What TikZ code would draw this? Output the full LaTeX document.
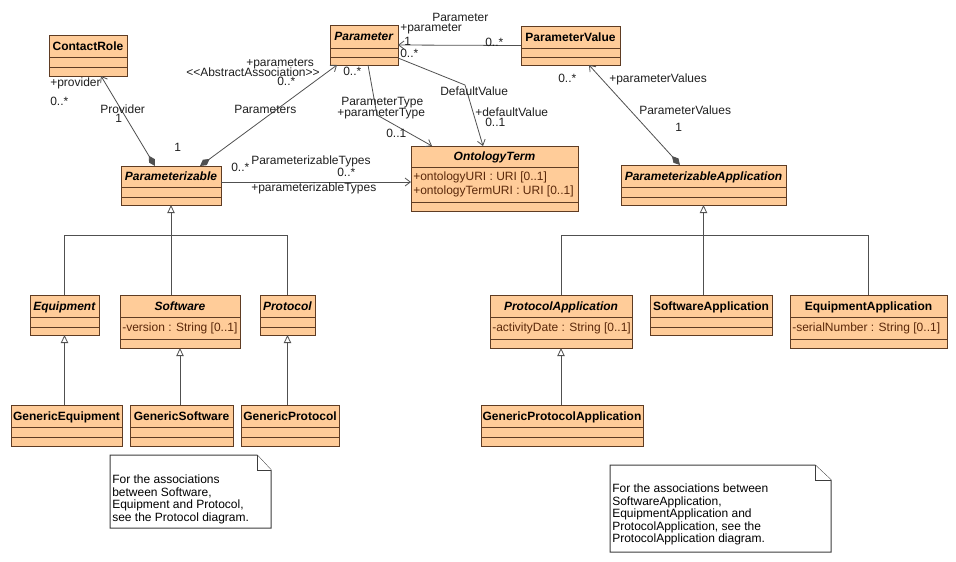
\documentclass[tikz,border=0pt]{standalone}
\usepackage{fontspec}
\setmainfont{Liberation Sans}
\usepackage{xcolor}
\usetikzlibrary{arrows.meta,calc}

\definecolor{umlfill}{RGB}{255,204,153}
\definecolor{boxc}{RGB}{95,60,35}
\definecolor{attrc}{RGB}{90,40,10}
\definecolor{linec}{RGB}{80,80,80}
\definecolor{lblc}{RGB}{30,30,30}
\definecolor{notec}{RGB}{60,60,60}

\tikzset{
  classbox/.style={draw=boxc, fill=umlfill, line width=0.75pt, anchor=north west, inner sep=0pt, outer sep=0pt},
  classline/.style={draw=boxc, line width=0.75pt},
  classtitle/.style={font=\fontsize{9}{10}\selectfont\bfseries, inner sep=0pt, text height=6.5pt, text depth=0pt},
  classattr/.style={font=\fontsize{9}{10.5}\selectfont, text=attrc, inner sep=0pt, anchor=west, align=left},
  lbl/.style={font=\fontsize{9}{10}\selectfont, inner sep=0pt, anchor=west, text height=6.5pt, text depth=0pt, text=lblc},
  assoc/.style={draw=linec, line width=0.6pt},
  navi/.style={-{Straight Barb[length=4pt,width=6pt]}},
  compo/.style={{Diamond[length=9pt,width=5pt]}-{Straight Barb[length=4pt,width=6pt]}},
  genl/.style={draw=linec, line width=0.6pt, -{Triangle[open,length=6pt,width=5.5pt,fill=white]}},
  notebox/.style={draw=notec, fill=white, line width=0.75pt},
  notetext/.style={font=\fontsize{9}{9.4}\selectfont, inner sep=0pt, anchor=west, align=left}
}

% class box: name, x, y, width, height, first sep, second sep, title, attributes
\newcommand{\umlclass}[9]{%
  \node[classbox, minimum width=#4*0.75pt, minimum height=#5*0.75pt] (#1) at (#2,#3) {};
  \draw[classline] ($(#1.north west)+(0,#6)$) -- ($(#1.north east)+(0,#6)$);
  \draw[classline] ($(#1.north west)+(0,#7)$) -- ($(#1.north east)+(0,#7)$);
  \node[classtitle] (#1-title) at ($(#1.north)+(0,#6/2)$) {#8};
  \if\relax\detokenize{#9}\relax\else
  \node[classattr] (#1-attr) at ($(#1.north west)+(2,#6/2+#7/2)$) {#9};
  \fi
}

\begin{document}
\begin{tikzpicture}[x=0.75pt,y=0.75pt,yscale=-1,xscale=1]
\useasboundingbox (0,0) rectangle (956,561);

%Shape: Class [ContactRole]
\umlclass{cr}{49}{35}{78}{41}{22}{32}{ContactRole}{}
%Shape: Class [Parameter]
\umlclass{prm}{330}{25}{68}{40}{23}{32}{\textit{Parameter}}{}
%Shape: Class [ParameterValue]
\umlclass{pv}{521}{26}{99}{39}{22}{31}{ParameterValue}{}
%Shape: Class [Parameterizable]
\umlclass{pz}{121}{166}{100}{39}{21}{31}{\textit{Parameterizable}}{}
%Shape: Class [OntologyTerm]
\umlclass{ot}{411}{146}{167}{65}{21}{56}{\textit{OntologyTerm}}{+ontologyURI : URI [0..1]\\+ontologyTermURI : URI [0..1]}
%Shape: Class [ParameterizableApplication]
\umlclass{pa}{621}{165}{165}{40}{22}{32}{\textit{ParameterizableApplication}}{}
%Shape: Class [Equipment]
\umlclass{eq}{30}{295}{69}{40}{22}{32}{\textit{Equipment}}{}
%Shape: Class [Software]
\umlclass{sw}{120}{295}{120}{53}{22}{44}{\textit{Software}}{-version : String [0..1]}
%Shape: Class [Protocol]
\umlclass{pcol}{260}{295}{55}{40}{22}{32}{\textit{Protocol}}{}
%Shape: Class [ProtocolApplication]
\umlclass{pcapp}{490}{295}{142}{53}{22}{44}{\textit{ProtocolApplication}}{-activityDate : String [0..1]}
%Shape: Class [SoftwareApplication]
\umlclass{swa}{650}{295}{122}{40}{22}{32}{SoftwareApplication}{}
%Shape: Class [EquipmentApplication]
\umlclass{eqa}{790}{295}{157}{53}{22}{44}{EquipmentApplication}{-serialNumber : String [0..1]}
%Shape: Class [GenericEquipment]
\umlclass{geq}{11}{405}{111}{41}{22}{32}{GenericEquipment}{}
%Shape: Class [GenericSoftware]
\umlclass{gsw}{130}{405}{103}{41}{22}{32}{GenericSoftware}{}
%Shape: Class [GenericProtocol]
\umlclass{gpcol}{241}{405}{98}{41}{22}{32}{GenericProtocol}{}
%Shape: Class [GenericProtocolApplication]
\umlclass{gpcapp}{481}{405}{162}{41}{22}{32}{GenericProtocolApplication}{}

%Straight Lines [Provider]
\draw [assoc, compo] ($(pz.north west)+(34,0)$) -- ($(cr.south west)+(52,0)$);
%Straight Lines [Parameters]
\draw [assoc, compo] ($(pz.north west)+(79,0)$) -- ($(prm.south west)+(7,0)$);
%Straight Lines [ParameterizableTypes]
\draw [assoc, navi] ($(pz.north east)+(0,16)$) -- ($(ot.north west)+(0,36)$);
%Straight Lines [Parameter]
\draw [assoc, navi] (pv.west) -- (prm.east);
%Straight Lines [ParameterType]
\coordinate (ptbend) at (377,115);
\draw [assoc, navi] ($(prm.south west)+(38,0)$) -- (ptbend) -- ($(ot.north west)+(21,0)$);
%Straight Lines [DefaultValue]
\coordinate (dvbend) at (465,85);
\draw [assoc, navi] ($(prm.south east)+(0,-7)$) -- (dvbend) -- ($(ot.north west)+(72,0)$);
%Straight Lines [ParameterValues]
\draw [assoc, compo] ($(pa.north west)+(59,0)$) -- ($(pv.south west)+(68,0)$);

%Generalization [Parameterizable]
\draw [genl] (pz.south |- sw.north) -- (pz.south);
\draw [assoc] (eq.north) -- ++(0,-60) -| (pcol.north);
\draw [genl] (eq.south |- geq.north) -- (eq.south);
\draw [genl] (sw.south |- gsw.north) -- (sw.south);
\draw [genl] (pcol.south |- gpcol.north) -- (pcol.south);
%Generalization [ParameterizableApplication]
\draw [genl] (pa.south |- swa.north) -- (pa.south);
\draw [assoc] (pcapp.north) -- ++(0,-60) -| (eqa.north);
\draw [genl] (pcapp.south |- gpcapp.north) -- (pcapp.south);

% Text Node
\node [lbl] (provrole) at (50,82) {+provider};
\node [lbl] (provmult) at (50,101) {0..*};
\node [lbl] (provname) at (100,109) {Provider};
\node [lbl] (provone) at (115,118) {1};
\node [lbl] (parsone) at (174,147) {1};
% Text Node
\node [lbl] (parsname) at (234,109) {Parameters};
\node [lbl] (parsrole) at (246,62) {+parameters};
\node [lbl] (parsster) at (186,72) {<\kern0pt<AbstractAssociation>\kern0pt>};
\node [lbl] (parsmult) at (277,81) {0..*};
% Text Node
\node [lbl] (ptypmulta) at (231,167) {0..*};
\node [lbl] (ptypname) at (251,160) {ParameterizableTypes};
\node [lbl] (ptypmultb) at (337,172) {0..*};
\node [lbl] (ptyprole) at (251,187) {+parameterizableTypes};
% Text Node
\node [lbl] (parname) at (432,17) {Parameter};
\node [lbl] (parrole) at (400,27) {+parameter};
\node [lbl] (parone) at (404,41) {1};
\node [lbl] (parmult) at (485,42) {0..*};
% Text Node
\node [lbl] (dvmulta) at (400,53) {0..*};
\node [lbl] (ptmulta) at (343,71) {0..*};
\node [lbl] (ptname) at (341,101) {ParameterType};
\node [lbl] (ptrole) at (337,112) {+parameterType};
\node [lbl] (ptmultb) at (386,133) {0..1};
% Text Node
\node [lbl] (dvname) at (440,91) {DefaultValue};
\node [lbl] (dvrole) at (475,112) {+defaultValue};
\node [lbl] (dvmultb) at (485,122) {0..1};
% Text Node
\node [lbl] (pvsmult) at (558,78) {0..*};
\node [lbl] (pvsrole) at (609,78) {+parameterValues};
\node [lbl] (pvsname) at (639,110) {ParameterValues};
\node [lbl] (pvsone) at (675,127) {1};

%Shape: Note [Protocol]
\draw [notebox] (110,455) -- (257,455) -- (271,470) -- (271,528) -- (110,528) -- cycle;
\draw [notebox] (257,455) -- (257,470) -- (271,470);
\node [notetext] (notea) at (112,499.5) {For the associations\\between Software,\\Equipment and Protocol,\\see the Protocol diagram.};
%Shape: Note [ProtocolApplication]
\draw [notebox] (610,465) -- (815,465) -- (831,480) -- (831,552) -- (610,552) -- cycle;
\draw [notebox] (815,465) -- (815,480) -- (831,480);
\node [notetext] (noteb) at (612,514.5) {For the associations between\\SoftwareApplication,\\EquipmentApplication and\\ProtocolApplication, see the\\ProtocolApplication diagram.};
\end{tikzpicture}
\end{document}
